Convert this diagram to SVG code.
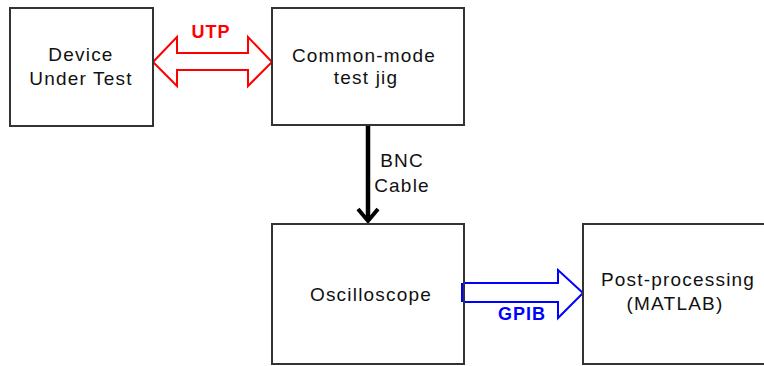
<svg xmlns="http://www.w3.org/2000/svg" width="764" height="366" viewBox="0 0 764 366">
  <style>
    .box { fill: #ffffff; stroke: #333333; stroke-width: 2; }
    .lbl { font-family: "Liberation Sans", Arial, sans-serif; font-size: 19px; fill: #111111; text-anchor: middle; letter-spacing: 1.2px; }
    .tag { font-family: "Liberation Sans", Arial, sans-serif; font-size: 18px; font-weight: bold; text-anchor: middle; letter-spacing: 1px; }
  </style>
  <rect width="764" height="366" fill="#ffffff"/>
  <g id="connectors">
    <g id="utp">
      <polygon points="153,62 177,37 177,53 248,53 248,37 272,62 248,86 248,70 177,70 177,86" fill="#ffffff" stroke="#ff0000" stroke-width="2" stroke-linejoin="miter"/>
      <text class="tag" x="211" y="38" fill="#ff0000">UTP</text>
    </g>
    <g id="bnc">
      <line x1="368" y1="126" x2="368" y2="220" stroke="#000000" stroke-width="4.5"/>
      <polyline points="358,209 368,221 378,209" fill="none" stroke="#000000" stroke-width="4"/>
      <text class="lbl" x="402" y="167">BNC</text>
      <text class="lbl" x="402" y="192">Cable</text>
    </g>
    <g id="gpib">
      <polygon points="462,283 558,283 558,270 583,293 558,318 558,302 462,302" fill="#ffffff" stroke="#0000ff" stroke-width="2"/>
      <text class="tag" x="522" y="320" fill="#0000ff">GPIB</text>
    </g>
  </g>
  <g id="dut">
    <rect class="box" x="10" y="8" width="143" height="118"/>
    <text class="lbl" x="81" y="61">Device</text>
    <text class="lbl" x="81" y="85">Under Test</text>
  </g>
  <g id="jig">
    <rect class="box" x="272" y="8" width="192" height="117"/>
    <text class="lbl" x="364" y="62">Common-mode</text>
    <text class="lbl" x="366" y="84">test jig</text>
  </g>
  <g id="scope">
    <rect class="box" x="272" y="224" width="192" height="140"/>
    <text class="lbl" x="371" y="301">Oscilloscope</text>
  </g>
  <g id="post">
    <rect class="box" x="583" y="224" width="190" height="140"/>
    <text class="lbl" x="678" y="286">Post-processing</text>
    <text class="lbl" x="675" y="310">(MATLAB)</text>
  </g>
  <g id="connectors-front">
    <line x1="462" y1="283" x2="462" y2="302" stroke="#0000ff" stroke-width="2"/>
  </g>
</svg>
